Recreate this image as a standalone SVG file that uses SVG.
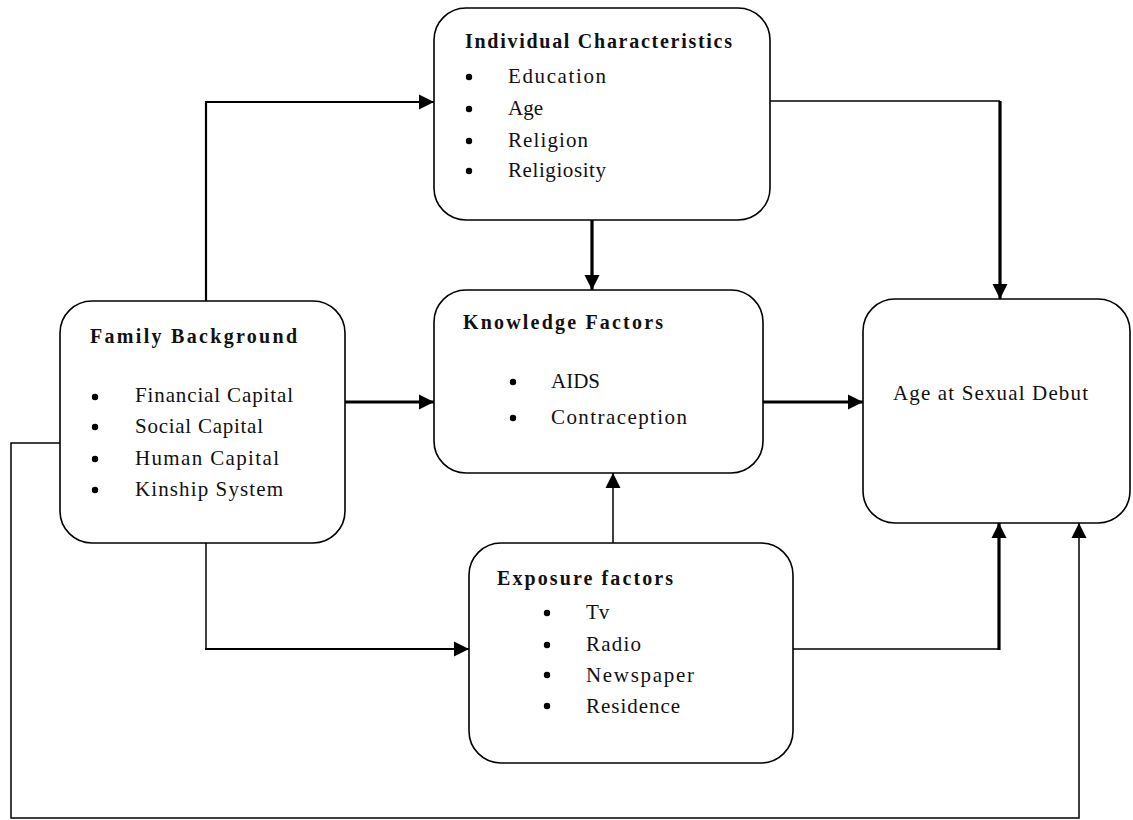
<svg xmlns="http://www.w3.org/2000/svg" width="1133" height="820" viewBox="0 0 1133 820">
<style>
.box{fill:#fff;stroke:#000;stroke-width:1.6}
.t{font-family:"Liberation Serif","Times New Roman",serif;font-size:21px;fill:#111}
.b{font-weight:bold;font-size:20px}
.c{fill:none;stroke:#000;stroke-linecap:butt}
.thin{stroke-width:1.5}
.mid{stroke-width:2.2}
.thick{stroke-width:3.2}
</style>
<defs>
<marker id="ah" markerUnits="userSpaceOnUse" markerWidth="16" markerHeight="16" refX="15" refY="8" orient="auto">
<path d="M0,0.5 L15,8 L0,15.5 z" fill="#000"/>
</marker>
</defs>
<g id="connectors">
<polyline class="c mid" points="206,301 206,102 434,102" marker-end="url(#ah)"/>
<polyline class="c thin" points="770,101 1000,101"/>
<line class="c thick" x1="1000" y1="101" x2="1000" y2="299" marker-end="url(#ah)"/>
<line class="c thick" x1="592" y1="220" x2="592" y2="290" marker-end="url(#ah)"/>
<line class="c thick" x1="345" y1="402" x2="434" y2="402" marker-end="url(#ah)"/>
<line class="c thick" x1="763" y1="402" x2="863" y2="402" marker-end="url(#ah)"/>
<line class="c thin" x1="613" y1="543" x2="613" y2="473" marker-end="url(#ah)"/>
<polyline class="c thin" points="206,543 206,649"/>
<line class="c mid" x1="205" y1="649" x2="469" y2="649" marker-end="url(#ah)"/>
<line class="c thin" x1="793" y1="649" x2="999" y2="649"/>
<line class="c thick" x1="999" y1="650" x2="999" y2="523" marker-end="url(#ah)"/>
<polyline class="c thin" points="60,443 11,443 11,818 1079,818 1079,523" marker-end="url(#ah)"/>
</g>
<g id="individual">
<rect class="box" x="434" y="8" width="336" height="212" rx="32" ry="32"/>
<text class="t b" x="465" y="48" textLength="267" lengthAdjust="spacing">Individual Characteristics</text>
<circle cx="469" cy="77" r="3.2"/><circle cx="469" cy="109" r="3.2"/><circle cx="469" cy="141" r="3.2"/><circle cx="469" cy="171" r="3.2"/>
<text class="t" x="508" y="83" textLength="98" lengthAdjust="spacing">Education</text>
<text class="t" x="508" y="115">Age</text>
<text class="t" x="508" y="147" textLength="80" lengthAdjust="spacing">Religion</text>
<text class="t" x="508" y="177" textLength="98" lengthAdjust="spacing">Religiosity</text>
</g>
<g id="family">
<rect class="box" x="60" y="301" width="285" height="242" rx="32" ry="32"/>
<text class="t b" x="90" y="343" textLength="207" lengthAdjust="spacing">Family Background</text>
<circle cx="95" cy="397" r="3.2"/><circle cx="95" cy="427" r="3.2"/><circle cx="95" cy="459" r="3.2"/><circle cx="95" cy="490" r="3.2"/>
<text class="t" x="135" y="402" textLength="158" lengthAdjust="spacing">Financial Capital</text>
<text class="t" x="135" y="433" textLength="128" lengthAdjust="spacing">Social Capital</text>
<text class="t" x="135" y="465" textLength="144" lengthAdjust="spacing">Human Capital</text>
<text class="t" x="135" y="496" textLength="148" lengthAdjust="spacing">Kinship System</text>
</g>
<g id="knowledge">
<rect class="box" x="434" y="290" width="329" height="183" rx="32" ry="32"/>
<text class="t b" x="463" y="329" textLength="200" lengthAdjust="spacing">Knowledge Factors</text>
<circle cx="513" cy="382" r="3.2"/><circle cx="513" cy="418" r="3.2"/>
<text class="t" x="551" y="388">AIDS</text>
<text class="t" x="551" y="424" textLength="136" lengthAdjust="spacing">Contraception</text>
</g>
<g id="exposure">
<rect class="box" x="469" y="543" width="324" height="220" rx="32" ry="32"/>
<text class="t b" x="497" y="585" textLength="176" lengthAdjust="spacing">Exposure factors</text>
<circle cx="547" cy="613" r="3.2"/><circle cx="547" cy="645" r="3.2"/><circle cx="547" cy="675" r="3.2"/><circle cx="547" cy="706" r="3.2"/>
<text class="t" x="586" y="619">Tv</text>
<text class="t" x="586" y="651" textLength="55" lengthAdjust="spacing">Radio</text>
<text class="t" x="586" y="682" textLength="108" lengthAdjust="spacing">Newspaper</text>
<text class="t" x="586" y="713" textLength="94" lengthAdjust="spacing">Residence</text>
</g>
<g id="age">
<rect class="box" x="863" y="299" width="267" height="224" rx="32" ry="32"/>
<text class="t" x="893" y="400" textLength="195" lengthAdjust="spacing">Age at Sexual Debut</text>
</g>
</svg>
